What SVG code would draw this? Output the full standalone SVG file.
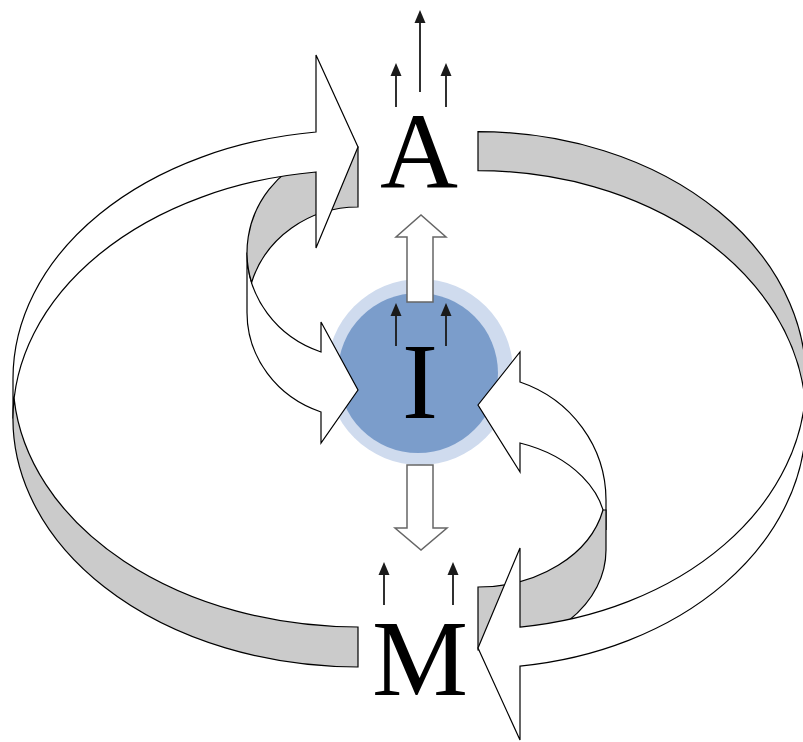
<svg xmlns="http://www.w3.org/2000/svg" width="803" height="742" viewBox="0 0 803 742">
<defs>
<style>
.front{fill:#ffffff;stroke:#000;stroke-width:1.2;stroke-linejoin:miter}
.back{fill:#cbcbcb;stroke:#000;stroke-width:1.2;stroke-linejoin:miter}
.block{fill:#ffffff;stroke:#666;stroke-width:1.5}
.thin{stroke:#1a1a1a;stroke-width:1.8;fill:none}
.head{fill:#1a1a1a}
.lbl{font-family:"Liberation Serif","Times New Roman",serif;font-size:108px;fill:#000;text-anchor:middle}
</style>
<path id="ah" class="head" d="M0,0 L-5.5,13 L5.5,13 Z"/>
</defs>
<rect width="803" height="742" fill="#ffffff"/>

<g id="node-I">
<circle cx="420" cy="372" r="93" fill="#cfdbee"/>
<circle cx="418" cy="373" r="80" fill="#7b9dcb"/>
<text class="lbl" x="420" y="418">I</text>
</g>

<g id="connectors">
<g id="A-to-I">
<path class="front" d="M247 252.5 A111 105.5 0 0 0 321 352 L321 322 L358 390 L321 443 L321 412 A111 105.5 0 0 1 247 312.5 Z"/>
<path class="back" d="M358 207 A111 105.5 0 0 0 251.6 282.5 A111 105.5 0 0 1 358 147 Z"/>
</g>
<g id="M-to-I">
<path class="front" d="M520 382 A128 125 0 0 1 606 500 L606 530 A128 92 0 0 0 520 443 L520 472 L478 405 L520 352 Z"/>
<path class="back" d="M603 510 A128 98 0 0 1 478 587 L478 650 A128 100 0 0 0 606 550 L606 510 Z"/>
</g>
<g id="M-to-A">
<path class="front" d="M13 418.6 A345 248.4 0 0 1 316 172 L316 248 L358 147 L316 55 L316 132 A345 248.4 0 0 0 13 378.6 Z"/>
<path class="back" d="M358 627 A345 248.4 0 0 1 14.1 398.6 A345 248.4 0 0 0 358 667 Z"/>
</g>
<g id="A-to-M">
<path class="front" d="M806 380.4 A328 248.7 0 0 1 520 627.1 L520 548 L478 648 L520 740 L520 666.1 A328 248.7 0 0 0 806 419.4 Z"/>
<path class="back" d="M478 170.7 A328 248.7 0 0 1 805 399.9 A328 248.7 0 0 0 478 131.7 Z"/>
</g>
<g id="I-to-A">
<path class="block" d="M407 302 L407 237 L396 237 L421 215 L446 237 L433 237 L433 302 Z"/>
</g>
<g id="I-to-M">
<path class="block" d="M407 465 L433 465 L433 528 L447 528 L421 550 L395 528 L407 528 Z"/>
</g>
</g>

<g id="node-A">
<text class="lbl" x="419" y="188">A</text>
</g>
<g id="node-M">
<text class="lbl" x="420" y="695">M</text>
</g>

<g id="flux-arrows">
<path class="thin" d="M396 107 V70 M420 92 V17 M446 107 V70 M396 346 V310 M446 346 V310 M384 605 V569 M453 605 V569"/>
<use href="#ah" x="396" y="63"/>
<use href="#ah" x="420" y="10"/>
<use href="#ah" x="446" y="63"/>
<use href="#ah" x="396" y="303"/>
<use href="#ah" x="446" y="303"/>
<use href="#ah" x="384" y="562"/>
<use href="#ah" x="453" y="562"/>
</g>
</svg>
